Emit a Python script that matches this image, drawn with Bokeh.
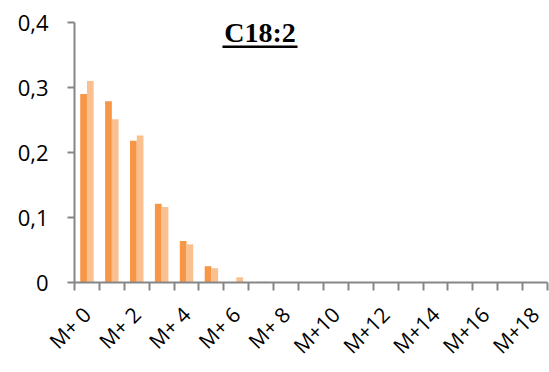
from math import pi
from bokeh.plotting import figure
from bokeh.models import ColumnDataSource, FixedTicker, Label, BoxAnnotation
from bokeh.transform import dodge
from bokeh.embed import file_html
from bokeh.resources import INLINE

categories = ["M+ 0", "M+ 1", "M+ 2", "M+ 3", "M+ 4", "M+ 5", "M+ 6", "M+ 7", "M+ 8", "M+ 9",
              "M+10", "M+11", "M+12", "M+13", "M+14", "M+15", "M+16", "M+17", "M+18"]
series_a = [0.290, 0.279, 0.218, 0.121, 0.064, 0.025, 0.0, 0.0, 0.0, 0.0,
            0.0, 0.0, 0.0, 0.0, 0.0, 0.0, 0.0, 0.0, 0.0]
series_b = [0.310, 0.251, 0.226, 0.116, 0.059, 0.022, 0.008, 0.001, 0.0, 0.0,
            0.0, 0.0, 0.0, 0.0, 0.0, 0.0, 0.0, 0.0, 0.0]
y_ticks = [0, 0.1, 0.2, 0.3, 0.4]
y_tick_labels = ["0", "0,1", "0,2", "0,3", "0,4"]
title_text = "C18:2"

idx = list(range(len(categories)))
src = ColumnDataSource(dict(x=idx, a=series_a, b=series_b))

p = figure(width=549, height=372, output_backend="svg", toolbar_location=None,
           x_range=(-0.5, len(categories) - 0.5), y_range=(0, 0.4),
           min_border_left=74, min_border_right=2, min_border_top=22, min_border_bottom=90)
p.outline_line_color = None
p.xgrid.visible = False
p.ygrid.visible = False
p.background_fill_color = "white"
p.border_fill_color = "white"

p.vbar(x=dodge("x", -0.135, range=p.x_range), top="a", width=0.27, source=src,
       fill_color="#F79646", line_color=None)
p.vbar(x=dodge("x", 0.135, range=p.x_range), top="b", width=0.27, source=src,
       fill_color="#FAC08F", line_color=None)

axis_col = "#868686"
font = "Open Sans"

xa = p.xaxis[0]
xa.ticker = FixedTicker(ticks=idx[::2], minor_ticks=[i - 0.5 for i in range(len(categories) + 1)])
xa.major_label_overrides = {i: categories[i] for i in idx[::2]}
xa.major_label_orientation = pi / 4
xa.major_tick_out = 0
xa.major_tick_in = 0
xa.minor_tick_out = 8
xa.minor_tick_in = 0
xa.minor_tick_line_color = axis_col
xa.minor_tick_line_width = 2
xa.axis_line_color = axis_col
xa.axis_line_width = 2
xa.major_label_text_font = font
xa.major_label_text_font_size = "21px"
xa.major_label_text_color = "black"
xa.major_label_standoff = 20

ya = p.yaxis[0]
ya.ticker = FixedTicker(ticks=y_ticks, minor_ticks=[])
ya.major_label_overrides = {t: l for t, l in zip(y_ticks, y_tick_labels)}
ya.major_tick_out = 7
ya.major_tick_in = 0
ya.major_tick_line_color = axis_col
ya.major_tick_line_width = 2
ya.axis_line_color = axis_col
ya.axis_line_width = 2
ya.major_label_text_font = font
ya.major_label_text_font_size = "22px"
ya.major_label_text_color = "black"
ya.major_label_standoff = 19

p.add_layout(Label(x=6.95, y=0.384, text=title_text, text_font="Liberation Serif",
                   text_font_style="bold", text_font_size="28px", text_align="center",
                   text_baseline="alphabetic", text_color="black"))
p.add_layout(BoxAnnotation(left=5.445, right=8.458, bottom=0.3606, top=0.3646,
                           fill_color="black", fill_alpha=1.0, line_color=None))

open("out.html", "w").write(file_html(p, INLINE))
